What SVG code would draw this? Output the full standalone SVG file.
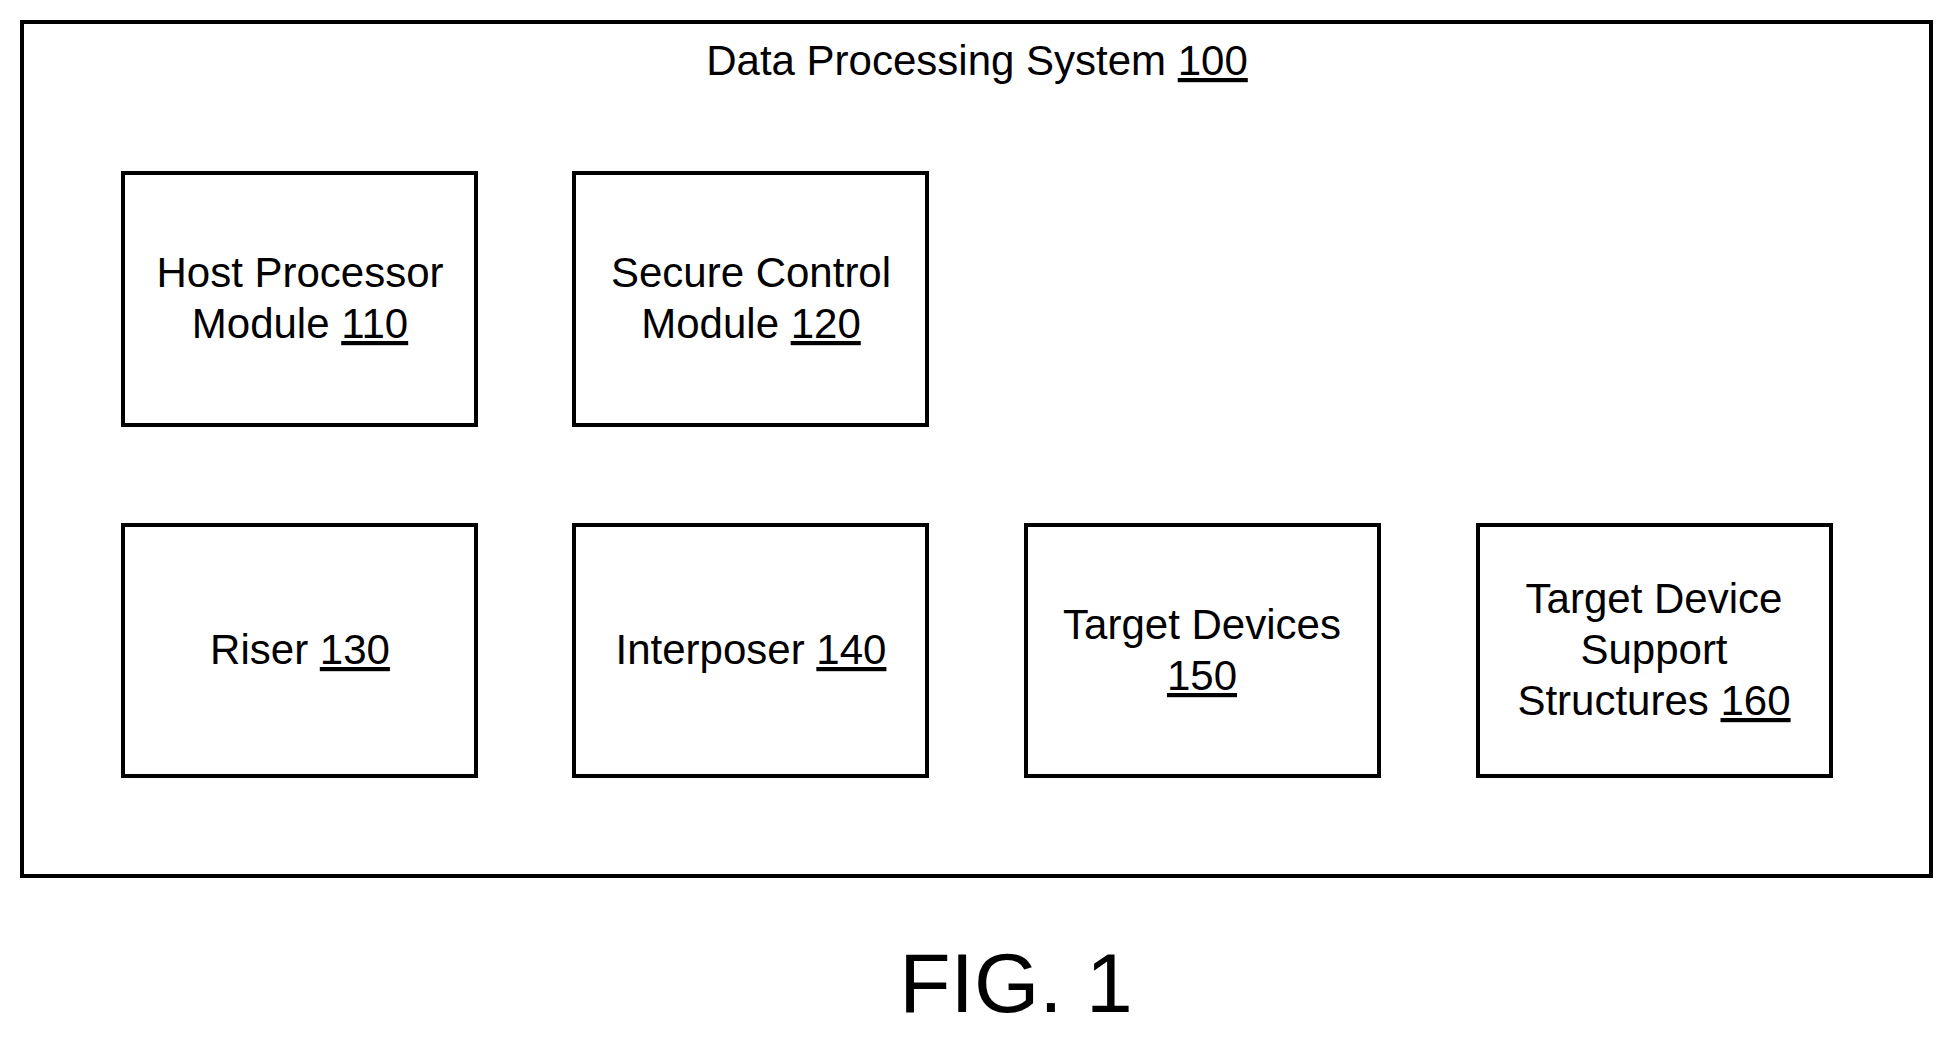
<svg xmlns="http://www.w3.org/2000/svg" width="1954" height="1037" viewBox="0 0 1954 1037">
<style>
rect{fill:none;stroke:#000;stroke-width:4}
text{font-family:"Liberation Sans",Arial,sans-serif;font-size:42px;text-anchor:middle;fill:#000}
.u{text-decoration:underline}
</style>
<rect width="1954" height="1037" style="fill:#fff;stroke:none"/>
<g id="system100">
<rect x="22" y="22" width="1909" height="854"/>
<text x="977" y="75">Data Processing System <tspan class="u">100</tspan></text>
</g>
<g id="n110"><rect x="123" y="173" width="353" height="252"/>
<text x="300" y="287">Host Processor</text><text x="300" y="338">Module <tspan class="u">110</tspan></text></g>
<g id="n120"><rect x="574" y="173" width="353" height="252"/>
<text x="751" y="287">Secure Control</text><text x="751" y="338">Module <tspan class="u">120</tspan></text></g>
<g id="n130"><rect x="123" y="525" width="353" height="251"/>
<text x="300" y="664">Riser <tspan class="u">130</tspan></text></g>
<g id="n140"><rect x="574" y="525" width="353" height="251"/>
<text x="751" y="664">Interposer <tspan class="u">140</tspan></text></g>
<g id="n150"><rect x="1026" y="525" width="353" height="251"/>
<text x="1202" y="639">Target Devices</text><text x="1202" y="690" class="u">150</text></g>
<g id="n160"><rect x="1478" y="525" width="353" height="251"/>
<text x="1654" y="613">Target Device</text><text x="1654" y="664">Support</text><text x="1654" y="715">Structures <tspan class="u">160</tspan></text></g>
<g id="connectors"/>
<text x="1016" y="1012" style="font-size:84px">FIG. 1</text>
</svg>
